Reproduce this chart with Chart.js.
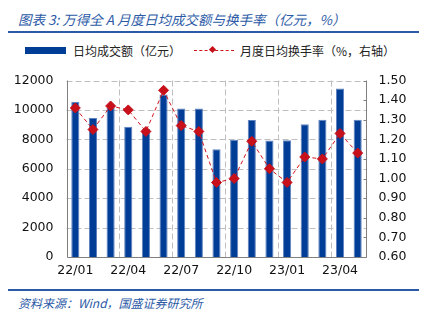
<!DOCTYPE html>
<html lang="zh">
<head>
<meta charset="UTF-8">
<title>万得全A月度日均成交额与换手率</title>
<script src="https://cdn.jsdelivr.net/npm/chart.js"></script>
<style>
  body { margin: 0; background: #fff; width: 427px; height: 326px; position: relative; overflow: hidden;
         font-family: "Noto Sans CJK SC", sans-serif; }
  .title { position: absolute; left: 18px; top: 9px; font-size: 13.5px; font-style: italic; color: #2b5aa6; white-space: nowrap; }
  .rule { position: absolute; left: 8px; width: 411px; height: 2px; background: #2b5aa6; }
  .legend { position: absolute; top: 42px; left: 25px; font-size: 12px; color: #222; white-space: nowrap; display: flex; align-items: center; }
  .box { width: 41px; height: 7px; background: #003d96; margin-right: 7px; }
  .dash { position: relative; width: 40px; height: 0; border-top: 1.3px dashed #d0141c; margin: 0 6px 0 13px; }
  .dash i { position: absolute; left: 16px; top: -4.5px; width: 5px; height: 5px; background: #c8101a; transform: rotate(45deg); }
  .source { position: absolute; left: 18px; top: 294px; font-size: 12px; font-style: italic; color: #2b5aa6; white-space: nowrap; }
  #wrap { position: absolute; left: 0; top: 60px; width: 427px; height: 228px; }
</style>
</head>
<body>
<div class="title">图表 3:  万得全 A 月度日均成交额与换手率（亿元，%）</div>
<div class="rule" style="top:31px"></div>
<div class="legend">
  <div class="box"></div><span>日均成交额（亿元）</span>
  <div class="dash"><i></i></div><span>月度日均换手率（%，右轴）</span>
</div>
<div id="wrap"><canvas id="myChart"></canvas></div>
<div class="rule" style="top:289px"></div>
<div class="source">资料来源：Wind，国盛证券研究所</div>

<script>
// data
const months = ['22/01','22/02','22/03','22/04','22/05','22/06','22/07','22/08','22/09',
                '22/10','22/11','22/12','23/01','23/02','23/03','23/04','23/05'];
const turnoverAmt = [10550, 9450, 10150, 8850, 8700, 11050, 10100, 10100, 7330,
                     7980, 9310, 7920, 7930, 9030, 9330, 11450, 9330];
const turnoverRate = [1.36, 1.25, 1.37, 1.35, 1.24, 1.45, 1.27, 1.24, 0.98,
                      1.00, 1.19, 1.05, 0.98, 1.11, 1.10, 1.23, 1.13];

const tickFont = { family: 'Tahoma, "DejaVu Sans", sans-serif', size: 12.5 };
const axisGray = '#808080';
const gridGray = '#bfbfbf';

// dashed grid (every 2000, every third month boundary) under the marks
const gridPlugin = {
  id: 'gridPlugin',
  beforeDatasetsDraw(chart) {
    const x = chart.scales.x, y = chart.scales.y, a = chart.chartArea, c = chart.ctx;
    c.save();
    c.strokeStyle = gridGray; c.lineWidth = 1; c.setLineDash([6, 3]);
    y.ticks.forEach(t => {
      if (t.value === 0) return;
      const py = Math.round(y.getPixelForValue(t.value)) + 0.5;
      c.beginPath(); c.moveTo(a.left, py); c.lineTo(a.right, py); c.stroke();
    });
    const half = (x.getPixelForValue(1) - x.getPixelForValue(0)) / 2;
    for (let i = 3; i < months.length; i += 3) {
      const px = Math.round(x.getPixelForValue(i) - half) + 0.5;
      c.beginPath(); c.moveTo(px, a.top); c.lineTo(px, a.bottom); c.stroke();
    }
    c.restore();
  },
  afterDatasetsDraw(chart) {
    // axis frame and short inward ticks on the right axis
    const s = chart.scales.y2, a = chart.chartArea, c = chart.ctx;
    c.save();
    c.strokeStyle = axisGray; c.lineWidth = 1;
    s.ticks.forEach(t => {
      const py = Math.round(s.getPixelForValue(t.value)) + 0.5;
      c.beginPath(); c.moveTo(s.left - 3, py); c.lineTo(s.left, py); c.stroke();
    });
    c.beginPath();
    c.moveTo(Math.round(a.left) + 0.5, a.top); c.lineTo(Math.round(a.left) + 0.5, Math.round(a.bottom) + 0.5);
    c.lineTo(Math.round(a.right) - 0.5, Math.round(a.bottom) + 0.5); c.lineTo(Math.round(a.right) - 0.5, a.top);
    c.stroke();
    c.restore();
  }
};

const ctx = document.getElementById('myChart').getContext('2d');
new Chart(ctx, {
  type: 'bar',
  data: {
    labels: months,
    datasets: [{
      type: 'line',
      label: '月度日均换手率（%，右轴）',
      data: turnoverRate,
      yAxisID: 'y2',
      borderColor: '#d0141c',
      borderWidth: 1,
      borderDash: [4, 3],
      pointStyle: 'rectRot',
      pointRadius: 5,
      pointBackgroundColor: '#c8101a',
      pointBorderColor: '#c8101a',
      tension: 0
    }, {
      label: '日均成交额（亿元）',
      data: turnoverAmt,
      yAxisID: 'y',
      backgroundColor: '#003d96',
      borderColor: '#5f82bf',
      borderWidth: 1,
      categoryPercentage: 0.46,
      barPercentage: 1
    }]
  },
  options: {
    responsive: true,
    maintainAspectRatio: false,
    animation: false,
    layout: { padding: { top: 13, left: 0, right: 0, bottom: 0 } },
    plugins: { legend: { display: false }, tooltip: { enabled: false } },
    scales: {
      x: {
        offset: true,
        grid: { display: false, drawTicks: false },
        border: { display: false },
        ticks: {
          autoSkip: false, maxRotation: 0, padding: 6, color: '#111', font: tickFont,
          callback: function (v, i) { return i % 3 === 0 ? this.getLabelForValue(v) : ''; }
        },
        afterFit: s => { s.height = 31; }
      },
      y: {
        position: 'left',
        min: 0, max: 12000,
        ticks: { stepSize: 2000, color: '#111', font: tickFont, padding: 13,
                 callback: v => String(v) },
        grid: { display: false, drawTicks: false },
        border: { display: false },
        afterFit: s => { s.width = 66.5; }
      },
      y2: {
        position: 'right',
        min: 0.6, max: 1.5,
        ticks: { stepSize: 0.1, color: '#111', font: tickFont, padding: 12,
                 callback: v => v.toFixed(2) },
        grid: { display: false, drawTicks: false },
        border: { display: false },
        afterFit: s => { s.width = 60.5; }
      }
    }
  },
  plugins: [gridPlugin]
});
</script>
</body>
</html>
